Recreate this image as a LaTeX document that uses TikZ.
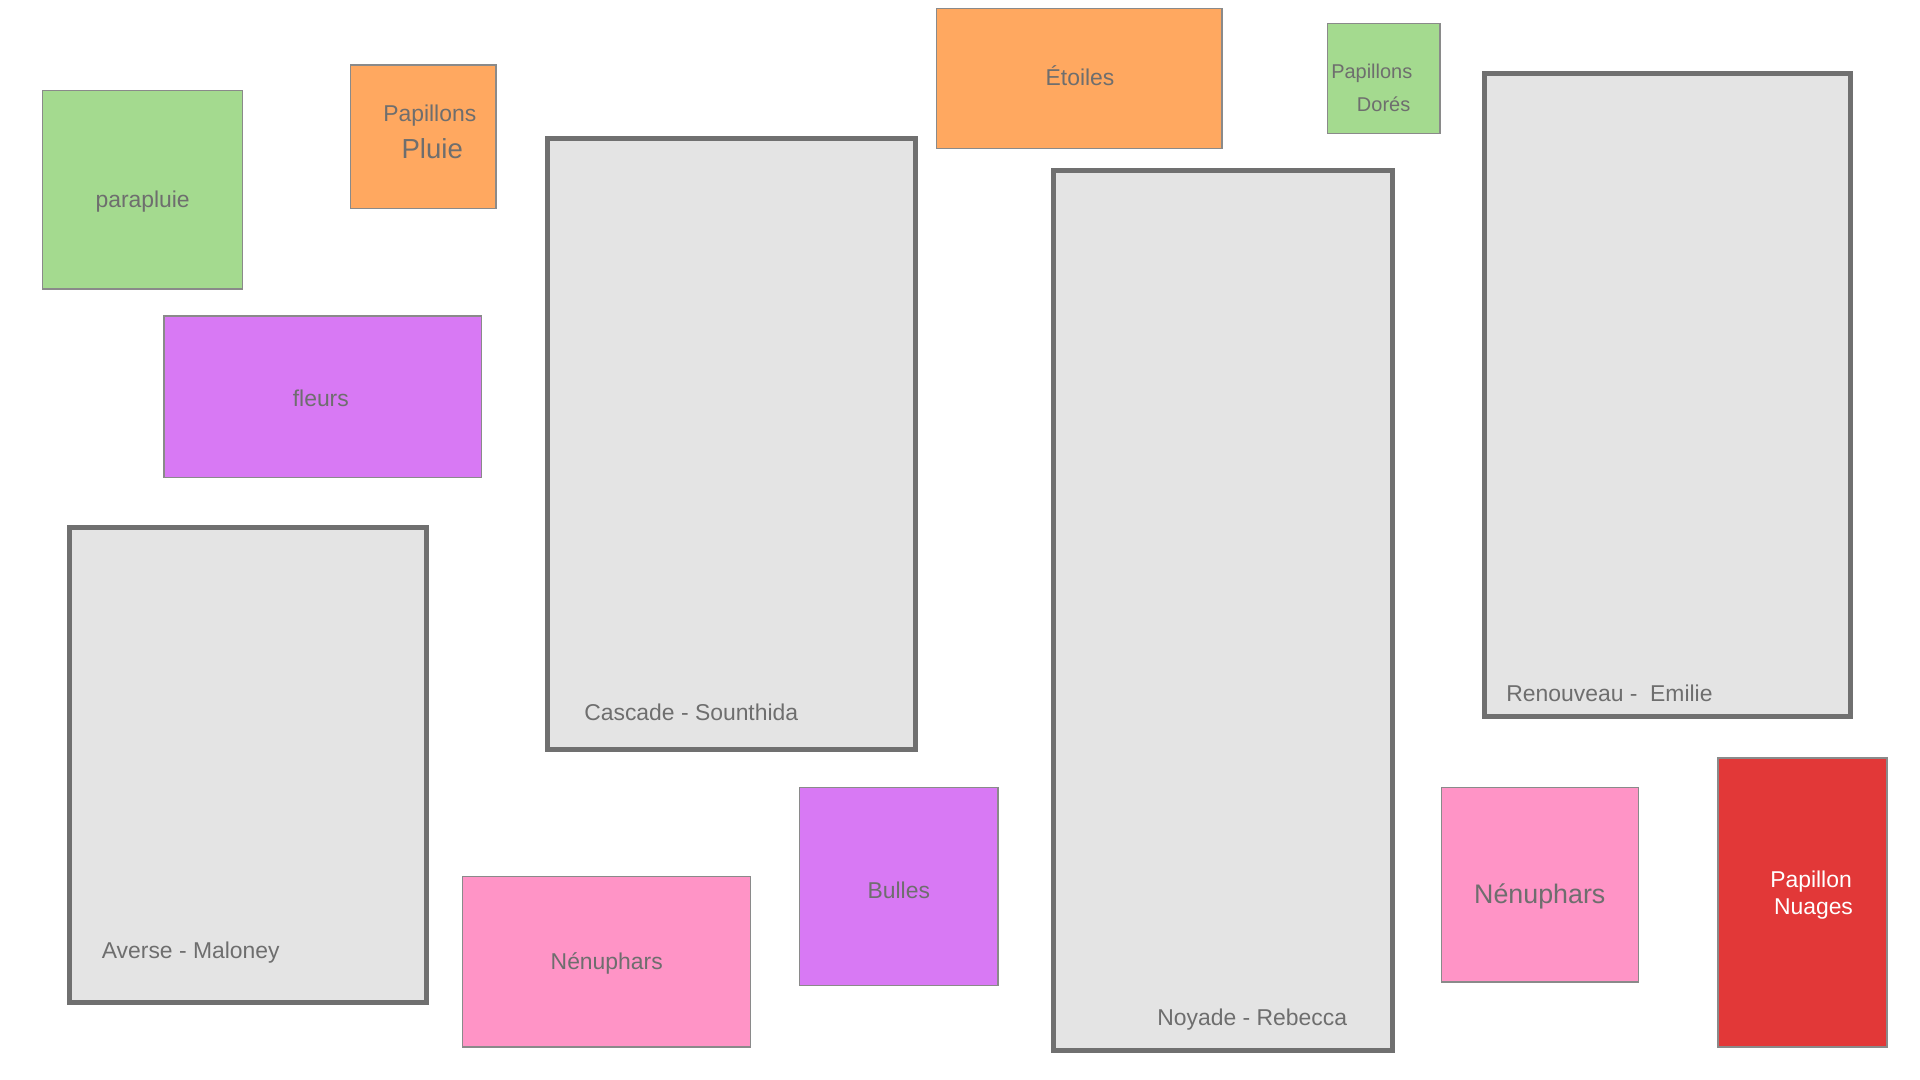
\documentclass[tikz,border=0pt]{standalone}
\usepackage{fontspec}
\setmainfont{Liberation Sans}
\definecolor{cgreen}{HTML}{A4DA8F}
\definecolor{corange}{HTML}{FFA860}
\definecolor{cpurple}{HTML}{D879F4}
\definecolor{cpink}{HTML}{FF94C6}
\definecolor{cred}{HTML}{E23838}
\definecolor{cgrayfill}{HTML}{E4E4E4}
\definecolor{cborder}{HTML}{707070}
\definecolor{ctext}{HTML}{6E6E6E}
\definecolor{cthin}{HTML}{8A8A8A}
\tikzset{
  flat/.style={draw=cthin, line width=1pt, inner sep=0pt, text=ctext,
    font=\fontsize{18.7}{22}\selectfont},
  greenbox/.style={flat, fill=cgreen},
  orangebox/.style={flat, fill=corange},
  purplebox/.style={flat, fill=cpurple},
  pinkbox/.style={flat, fill=cpink},
  redbox/.style={flat, fill=cred},
  bigbox/.style={draw=cborder, line width=4pt, fill=cgrayfill, inner sep=0pt},
  lbl/.style={inner sep=0pt, text=ctext, font=\fontsize{18.7}{22}\selectfont},
}
\begin{document}
\begin{tikzpicture}[x=1pt,y=-1pt]
\useasboundingbox (0,0) rectangle (1568,882);
\fill[white] (0,0) rectangle (1568,882);
% small coloured boxes
\node[greenbox, minimum width=163pt, minimum height=162pt] (paraplbox) at (116.5,155) {};
\node[lbl] (parapluie) at (116.5,165) {parapluie};
\node[orangebox, minimum width=119pt, minimum height=117pt] (pluiebox) at (345.5,111.5) {};
\node[lbl] (pap1) at (351,94) {Papillons};
\node[lbl, font=\fontsize{22.5}{26}\selectfont] (pluie) at (353,121) {Pluie};
\node[purplebox, minimum width=259pt, minimum height=132pt] (fleursbox) at (263.5,324) {};
\node[lbl] (fleurs) at (262,325) {fleurs};
\node[orangebox, minimum width=233pt, minimum height=114pt] (etoilesbox) at (881.5,64) {};
\node[lbl] (etoiles) at (882,62) {Étoiles};
\node[greenbox, minimum width=92pt, minimum height=90pt] (dores) at (1130,64) {};
\node[lbl, anchor=west, font=\fontsize{16.3}{20}\selectfont] (pap2) at (1087,60) {Papillons};
\node[lbl, anchor=west, font=\fontsize{16.3}{20}\selectfont] (dor) at (1108,85) {Dorés};
\node[pinkbox, minimum width=235pt, minimum height=139pt] (nen1box) at (495.5,785.5) {};
\node[lbl] (nen1) at (495.5,787) {Nénuphars};
\node[purplebox, minimum width=162pt, minimum height=162pt] (bullesbox) at (734,724) {};
\node[lbl] (bulles) at (734,727) {Bulles};
\node[pinkbox, minimum width=161pt, minimum height=159pt] (nen2box) at (1257.5,722.5) {};
\node[lbl, font=\fontsize{21.9}{26}\selectfont] (nen2) at (1257.5,732) {Nénuphars};
\node[redbox, minimum width=138pt, minimum height=236pt] (nuagesbox) at (1472,737) {};
\node[lbl, text=white] (pap3) at (1479,720) {Papillon};
\node[lbl, text=white] (nuages) at (1481,742) {Nuages};
% big grey boxes
\node[bigbox, minimum width=301pt, minimum height=499pt] (cascade) at (597.5,362.5) {};
\node[lbl, anchor=west] (cascadel) at (477,582) {Cascade - Sounthida};
\node[bigbox, minimum width=277pt, minimum height=719pt] (noyade) at (998.5,498.5) {};
\node[lbl, anchor=west] (noyadel) at (945,833) {Noyade - Rebecca};
\node[bigbox, minimum width=299pt, minimum height=525pt] (renouveau) at (1361.5,322.5) {};
\node[lbl, anchor=west] (renouveaul) at (1230,566) {Renouveau -\ \ Emilie};
\node[bigbox, minimum width=291pt, minimum height=388pt] (averse) at (202.5,625) {};
\node[lbl, anchor=west] (aversel) at (83,778) {Averse - Maloney};
\end{tikzpicture}
\end{document}
